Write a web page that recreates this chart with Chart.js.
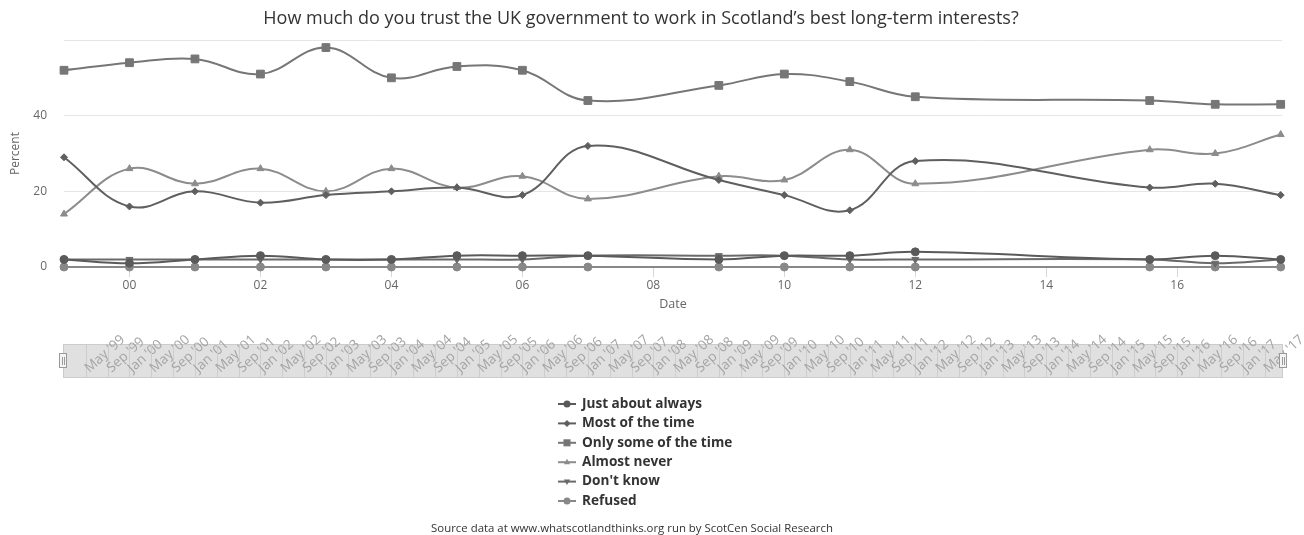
<!DOCTYPE html>
<html>
<head>
<meta charset="utf-8">
<script src="https://cdn.jsdelivr.net/npm/chart.js@4"></script>
<style>
  html, body { margin: 0; padding: 0; background: #fff; }
  #wrap { width: 1304px; height: 535px; position: relative; }
</style>
</head>
<body>
<div id="wrap"><canvas id="chartTrust"></canvas></div>
<script>
// survey dates (fractional years) and answers, in percent
var surveyDates = [1999, 2000, 2001, 2002, 2003, 2004, 2005, 2006, 2007, 2009, 2010, 2011, 2012, 2015.58, 2016.58, 2017.58];
var justAboutAlways = [2, 1, 2, 3, 2, 2, 3, 3, 3, 2, 3, 3, 4, 2, 3, 2];
var mostOfTheTime = [29, 16, 20, 17, 19, 20, 21, 19, 32, 23, 19, 15, 28, 21, 22, 19];
var onlySomeOfTheTime = [52, 54, 55, 51, 58, 50, 53, 52, 44, 48, 51, 49, 45, 44, 43, 43];
var almostNever = [14, 26, 22, 26, 20, 26, 21, 24, 18, 24, 23, 31, 22, 31, 30, 35];
var dontKnow = [2, 2, 2, 2, 2, 2, 2, 2, 3, 3, 3, 2, 2, 2, 1, 2];
var refused = [0, 0, 0, 0, 0, 0, 0, 0, 0, 0, 0, 0, 0, 0, 0, 0];

var xTicks = [2000, 2002, 2004, 2006, 2008, 2010, 2012, 2014, 2016];
var yTicks = [0, 20, 40, 60];

// navigator strip labels: every 4 months from May '99 to May '17
var navMonths = ['Jan', 'May', 'Sep'];
var navFirst = 1999, navLast = 2017;

var titleText = "How much do you trust the UK government to work in Scotland\u2019s best long-term interests?";
var creditText = "Source data at www.whatscotlandthinks.org run by ScotCen Social Research";

function toPoints(values) {
    return values.map(function(v, i) { return {x: surveyDates[i], y: v}; });
}

function makeSet(label, values, color, style, radius, rotation) {
    return {
        label: label,
        data: toPoints(values),
        borderColor: color,
        backgroundColor: color,
        pointBackgroundColor: color,
        pointBorderColor: color,
        pointBorderWidth: 1,
        pointStyle: style,
        pointRadius: radius,
        pointRotation: rotation || 0,
        borderWidth: 2,
        tension: 0.4,
        fill: false,
        clip: false
    };
}

function drawMarker(ctx, style, x, y, r, rotation) {
    ctx.beginPath();
    if (style === 'circle') {
        ctx.arc(x, y, r, 0, Math.PI * 2);
    } else if (style === 'rect') {
        var s = Math.SQRT1_2 * r;
        ctx.rect(x - s, y - s, 2 * s, 2 * s);
    } else if (style === 'rectRot') {
        ctx.moveTo(x, y - r); ctx.lineTo(x + r, y); ctx.lineTo(x, y + r); ctx.lineTo(x - r, y);
        ctx.closePath();
    } else if (style === 'triangle') {
        var d = rotation ? -1 : 1;
        ctx.moveTo(x, y - d * r);
        ctx.lineTo(x + r * 0.9, y + d * r * 0.6);
        ctx.lineTo(x - r * 0.9, y + d * r * 0.6);
        ctx.closePath();
    }
    ctx.fill();
}

var extrasPlugin = {
    id: 'extras',
    afterDraw: function(chart) {
        var ctx = chart.ctx;
        var xs = chart.scales.x;
        var area = chart.chartArea;
        ctx.save();

        // navigator strip
        var top = 344, h = 34;
        var left = area.left - 1, right = area.right + 1;
        ctx.fillStyle = '#e0e0e0';
        ctx.fillRect(left, top, right - left, h);
        ctx.strokeStyle = '#cccccc';
        ctx.lineWidth = 1;
        ctx.strokeRect(left + 0.5, top + 0.5, right - left - 1, h - 1);

        ctx.font = '13.5px "Open Sans", sans-serif';
        ctx.textAlign = 'left';
        ctx.textBaseline = 'alphabetic';
        for (var yr = navFirst; yr <= navLast; yr++) {
            for (var m = 0; m < navMonths.length; m++) {
                var val = yr + (m * 4) / 12;
                if (val < navFirst + 4 / 12 || val > navLast + 4 / 12 + 0.001) continue;
                var px = Math.round(xs.getPixelForValue(val)) + 0.5;
                ctx.strokeStyle = '#cdcdcd';
                ctx.beginPath();
                ctx.moveTo(px, top + 1);
                ctx.lineTo(px, top + h - 1);
                ctx.stroke();
                ctx.save();
                ctx.translate(px + 3, top + 29);
                ctx.rotate(-42 * Math.PI / 180);
                ctx.fillStyle = '#a4a4a4';
                ctx.fillText(navMonths[m] + " '" + String(yr).slice(2), 0, 0);
                ctx.restore();
            }
        }
        // handles
        [left, right].forEach(function(hx) {
            ctx.fillStyle = '#f4f4f4';
            ctx.strokeStyle = '#999';
            ctx.fillRect(hx - 4, top + 9, 8, 15);
            ctx.strokeRect(hx - 3.5, top + 9.5, 7, 14);
            ctx.beginPath();
            ctx.moveTo(hx - 0.5, top + 13); ctx.lineTo(hx - 0.5, top + 21);
            ctx.moveTo(hx + 1.5, top + 13); ctx.lineTo(hx + 1.5, top + 21);
            ctx.stroke();
        });

        // vertical legend
        var lx = 558, ly = 404, step = 19.4;
        ctx.font = 'bold 13.6px "Open Sans", sans-serif';
        ctx.textBaseline = 'middle';
        chart.data.datasets.forEach(function(ds, i) {
            var y = ly + i * step;
            ctx.strokeStyle = ds.borderColor;
            ctx.fillStyle = ds.borderColor;
            ctx.lineWidth = 2;
            ctx.beginPath();
            ctx.moveTo(lx, y); ctx.lineTo(lx + 18, y);
            ctx.stroke();
            drawMarker(ctx, ds.pointStyle, lx + 9, y, ds.pointStyle === 'rect' ? 5 : 3.5, ds.pointRotation);
            ctx.fillStyle = '#333333';
            ctx.fillText(ds.label, lx + 24, y);
        });

        // credit line
        ctx.font = '11.4px "Open Sans", sans-serif';
        ctx.textAlign = 'center';
        ctx.fillStyle = '#333333';
        ctx.fillText(creditText, 632, 529);
        ctx.restore();
    }
};

var chartTrust = new Chart(document.getElementById("chartTrust"), {
    type: 'line',
    data: {
        datasets: [
            makeSet("Just about always", justAboutAlways, '#5a5a5a', 'circle', 4),
            makeSet("Most of the time", mostOfTheTime, '#5f5f5f', 'rectRot', 3.5),
            makeSet("Only some of the time", onlySomeOfTheTime, '#767676', 'rect', 5.5),
            makeSet("Almost never", almostNever, '#8c8c8c', 'triangle', 4),
            makeSet("Don't know", dontKnow, '#6a6a6a', 'triangle', 4, 180),
            makeSet("Refused", refused, '#888888', 'circle', 4)
        ]
    },
    options: {
        responsive: true,
        maintainAspectRatio: false,
        animation: false,
        layout: { padding: { left: 0, right: 22, top: 0, bottom: 223 } },
        plugins: {
            legend: { display: false },
            tooltip: { enabled: false },
            title: {
                display: true,
                text: titleText,
                color: '#333333',
                font: { family: '"Open Sans", sans-serif', size: 18, weight: 'normal' },
                padding: { top: 8, bottom: 10.4 }
            }
        },
        scales: {
            x: {
                type: 'linear',
                min: 1999,
                max: 2017.6,
                afterBuildTicks: function(scale) {
                    scale.ticks = xTicks.map(function(v) { return {value: v}; });
                },
                afterFit: function(scale) { scale.height = 45; },
                ticks: {
                    padding: 1,
                    color: '#666666',
                    font: { family: '"Open Sans", sans-serif', size: 12 },
                    maxRotation: 0,
                    callback: function(v) { return String(v).slice(2); }
                },
                grid: { drawOnChartArea: false, drawTicks: true, tickLength: 10, color: '#d8d8d8' },
                border: { display: true, color: '#c8c8c8' },
                title: {
                    display: true,
                    text: 'Date',
                    color: '#666666',
                    font: { family: '"Open Sans", sans-serif', size: 12.5 },
                    padding: { top: 0, bottom: 0 }
                }
            },
            y: {
                min: 0,
                max: 60,
                afterBuildTicks: function(scale) {
                    scale.ticks = yTicks.map(function(v) { return {value: v}; });
                },
                afterFit: function(scale) { scale.width = 64; },
                ticks: {
                    padding: 17,
                    color: '#666666',
                    font: { family: '"Open Sans", sans-serif', size: 12 },
                    callback: function(v) { return v === 60 ? '' : v; }
                },
                grid: { color: '#e6e6e6', drawTicks: false },
                border: { display: false },
                title: {
                    display: true,
                    text: 'Percent',
                    color: '#666666',
                    font: { family: '"Open Sans", sans-serif', size: 12 },
                    padding: { top: 8, bottom: 4 }
                }
            }
        }
    },
    plugins: [extrasPlugin]
});
</script>
</body>
</html>
